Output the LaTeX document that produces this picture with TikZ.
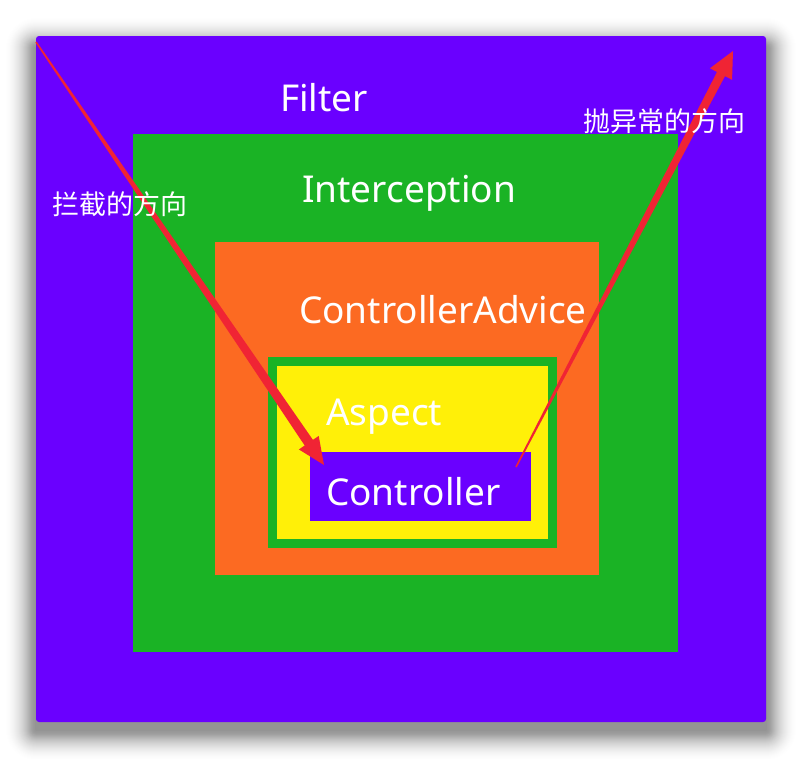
\documentclass[tikz,border=0pt]{standalone}
\usepackage{fontspec}
\setmainfont{Noto Sans}
\newfontfamily\cjk{Noto Sans CJK SC}
\usetikzlibrary{calc}
\definecolor{fpurple}{RGB}{106,0,255}
\definecolor{fgreen}{RGB}{26,179,37}
\definecolor{forange}{RGB}{252,106,34}
\definecolor{fyellow}{RGB}{255,240,8}
\definecolor{fred}{RGB}{240,36,52}
\tikzset{
  box/.style={rectangle, inner sep=0pt, outer sep=0pt, draw=none},
  lbl/.style={text=white, font=\fontsize{37}{42}\selectfont, inner sep=0pt, anchor=base west},
  cjklbl/.style={text=white, font=\cjk\fontsize{27}{30}\selectfont, inner sep=0pt},
}
\newcommand\taperarrow[6]{%
  \coordinate (hb) at ($(#2)!#3!(#1)$);
  \fill[fred] ($(#1)!#5!90:(#2)$) -- ($(hb)!#6!-90:(#1)$) -- ($(hb)!#4!-90:(#1)$) -- (#2)
     -- ($(hb)!#4!90:(#1)$) -- ($(hb)!#6!90:(#1)$) -- ($(#1)!#5!-90:(#2)$) -- cycle;
}
\begin{document}
\begin{tikzpicture}[x=1pt,y=-1pt]
\useasboundingbox (0,0) rectangle (802,758);
\fill[white] (0,0) rectangle (802,758);
% soft shadow
\foreach \d in {1,...,32}{
  \pgfmathsetmacro{\op}{0.0009*(33-\d)}
  \fill[black, opacity=\op, rounded corners=\d pt] (36-\d,36-\d+12) rectangle (766+\d,722+\d+8);
}
\fill[fpurple, rounded corners=3pt] (36,36) rectangle (766,722);
\node[box, fill=fpurple, minimum width=726pt, minimum height=682pt] (filter) at (401,379) {};
\node[box, fill=fgreen, minimum width=545pt, minimum height=518pt] (interc) at (405.5,392.5) {};
\node[box, fill=forange, minimum width=384pt, minimum height=333pt] (advice) at (407,408.5) {};
\node[box, fill=fgreen, minimum width=289pt, minimum height=191pt] (aspectouter) at (412.5,452.5) {};
\node[box, fill=fyellow, minimum width=271pt, minimum height=173pt] (aspect) at (412.5,452.5) {};
\node[box, fill=fpurple, minimum width=221pt, minimum height=69pt] (ctrl) at (420.5,486.5) {};

\node[lbl] (tfilter) at (280,111) {Filter};
\node[lbl] (tinterc) at (302,202) {Interception};
\node[lbl] (tadvice) at (299,323) {ControllerAdvice};
\node[lbl] (taspect) at (326,425) {Aspect};
\node[lbl] (tctrl) at (326,505) {Controller};

\coordinate (a1s) at (36,42);
\coordinate (a1t) at (324,465);
\coordinate (a2s) at (516,467);
\coordinate (a2t) at (733,51);
\taperarrow{a1s}{a1t}{27pt}{12pt}{0.8pt}{5pt}
\taperarrow{a2s}{a2t}{26pt}{12.5pt}{0.8pt}{4.5pt}

\node[cjklbl] (tin) at (120,204) {拦截的方向};
\node[cjklbl] (tout) at (664,121) {抛异常的方向};
\end{tikzpicture}
\end{document}
